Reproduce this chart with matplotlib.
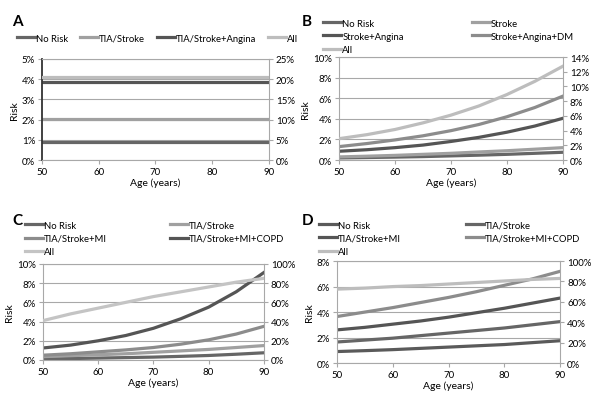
import numpy as np
import matplotlib
matplotlib.use('Agg')
import matplotlib.pyplot as plt
from matplotlib.ticker import FuncFormatter

plt.rcParams['font.family'] = ['Lato', 'DejaVu Sans']

# 나이 (years)
ages = [50, 55, 60, 65, 70, 75, 80, 85, 90]

# Panel A - constant risk
a_labels = ['No Risk', 'TIA/Stroke', 'TIA/Stroke+Angina', 'All']
a_no_risk = [0.9] * 9
a_tia = [2.05] * 9
a_tia_angina = [3.85] * 9
a_all_right = [20.5] * 9   # right axis

# Panel B
b_labels = ['No Risk', 'Stroke', 'Stroke+Angina', 'Stroke+Angina+DM', 'All']
b_no_risk = [0.2, 0.24, 0.28, 0.33, 0.4, 0.47, 0.55, 0.65, 0.75]
b_stroke = [0.3, 0.37, 0.45, 0.55, 0.65, 0.78, 0.9, 1.05, 1.2]
b_angina = [0.85, 1.0, 1.2, 1.45, 1.8, 2.2, 2.7, 3.3, 4.05]
b_dm = [1.3, 1.6, 1.95, 2.35, 2.85, 3.45, 4.2, 5.1, 6.2]
b_all_right = [2.9, 3.45, 4.15, 5.05, 6.1, 7.35, 8.9, 10.7, 12.75]

# Panel C
c_labels = ['No Risk', 'TIA/Stroke', 'TIA/Stroke+MI', 'TIA/Stroke+MI+COPD', 'All']
c_no_risk = [0.12, 0.15, 0.2, 0.25, 0.3, 0.38, 0.47, 0.6, 0.75]
c_tia = [0.35, 0.45, 0.55, 0.65, 0.8, 0.95, 1.1, 1.3, 1.5]
c_mi = [0.5, 0.65, 0.85, 1.05, 1.3, 1.65, 2.1, 2.7, 3.5]
c_copd = [1.25, 1.55, 2.0, 2.55, 3.3, 4.3, 5.5, 7.1, 9.1]
c_all_right = [41, 48, 54, 60, 66, 71, 76, 81, 85]

# Panel D
d_labels = ['No Risk', 'TIA/Stroke', 'TIA/Stroke+MI', 'TIA/Stroke+MI+COPD', 'All']
d_no_risk = [0.9, 0.97, 1.05, 1.15, 1.25, 1.35, 1.45, 1.6, 1.75]
d_tia = [1.65, 1.8, 1.95, 2.15, 2.35, 2.55, 2.75, 3.0, 3.25]
d_mi = [2.6, 2.8, 3.05, 3.3, 3.6, 3.95, 4.3, 4.7, 5.1]
d_copd = [3.65, 4.0, 4.35, 4.75, 5.15, 5.6, 6.1, 6.6, 7.2]
d_all_right = [72.5, 73.5, 75, 76, 77.5, 79, 80.5, 82, 83]

pct = FuncFormatter(lambda v, p: '%d%%' % round(v))
grid_c = '#a8a8a8'
lw = 2.3
fs_tick = 7
fs_leg = 6.8


def setup(ax, ylim, yticks, rlim, rticks, left_dark=False):
    ax.set_xlim(50, 90)
    ax.set_ylim(*ylim)
    ax.set_yticks(yticks)
    ax.set_xticks([50, 60, 70, 80, 90])
    ax.yaxis.set_major_formatter(pct)
    ax.yaxis.grid(True, color=grid_c, lw=0.8)
    ax.set_axisbelow(True)
    for s in ['top', 'right', 'bottom']:
        ax.spines[s].set_color(grid_c)
        ax.spines[s].set_linewidth(0.8)
    ax.spines['left'].set_color('#333333' if left_dark else grid_c)
    ax.spines['left'].set_linewidth(1.3 if left_dark else 0.8)
    ax.tick_params(axis='both', labelsize=fs_tick, length=3, width=0.8,
                   color=grid_c, pad=2)
    ax.set_xlabel('Age (years)', fontsize=7.5, labelpad=1)
    ax.set_ylabel('Risk', fontsize=7.5, labelpad=2)
    ax2 = ax.twinx()
    ax2.set_ylim(*rlim)
    ax2.set_yticks(rticks)
    ax2.yaxis.set_major_formatter(pct)
    for s in ax2.spines.values():
        s.set_visible(False)
    ax2.tick_params(axis='y', labelsize=fs_tick, length=3, width=0.8,
                    color=grid_c, pad=2)
    return ax2


def two_col_legend(ax, handles, labels, x0, y0, spacing):
    ax.legend(handles, labels, loc='lower left', bbox_to_anchor=(x0, y0), ncol=2,
              frameon=False, fontsize=fs_leg, handlelength=1.9, handletextpad=0.1,
              columnspacing=spacing, labelspacing=0.45, borderaxespad=0, borderpad=0)


fig = plt.figure(figsize=(6, 4.02), dpi=100)

# ---- A
axA = fig.add_axes([0.07, 0.5995, 0.378, 0.2515])
axA2 = setup(axA, (0, 5), [0, 1, 2, 3, 4, 5], (0, 25), [0, 5, 10, 15, 20, 25], left_dark=True)
hA = []
hA += axA.plot(ages, a_no_risk, color='#666666', lw=lw)
hA += axA.plot(ages, a_tia, color='#a0a0a0', lw=lw)
hA += axA.plot(ages, a_tia_angina, color='#555555', lw=lw)
hA += axA2.plot(ages, a_all_right, color='#bdbdbd', lw=lw)
axA.legend(hA, a_labels, loc='lower left', bbox_to_anchor=(-0.11, 1.16), ncol=4,
           frameon=False, fontsize=fs_leg, handlelength=1.9, handletextpad=0.1,
           columnspacing=1.25, borderaxespad=0, borderpad=0)
fig.text(0.02, 0.935, 'A', fontsize=11, fontweight='bold')

# ---- B
axB = fig.add_axes([0.565, 0.5995, 0.373, 0.256])
axB2 = setup(axB, (0, 10), [0, 2, 4, 6, 8, 10], (0, 14), [0, 2, 4, 6, 8, 10, 12, 14])
b1, = axB.plot(ages, b_no_risk, color='#666666', lw=lw)
b2, = axB.plot(ages, b_stroke, color='#a0a0a0', lw=lw)
b3, = axB.plot(ages, b_angina, color='#555555', lw=lw)
b4, = axB.plot(ages, b_dm, color='#8c8c8c', lw=lw)
b5, = axB2.plot(ages, b_all_right, color='#bdbdbd', lw=lw)
two_col_legend(axB, [b1, b3, b5, b2, b4],
               [b_labels[0], b_labels[2], b_labels[4], b_labels[1], b_labels[3]], -0.07, 1.03, 7.2)
fig.text(0.503, 0.935, 'B', fontsize=11, fontweight='bold')

# ---- C
axC = fig.add_axes([0.0717, 0.102, 0.368, 0.239])
axC2 = setup(axC, (0, 10), [0, 2, 4, 6, 8, 10], (0, 100), [0, 20, 40, 60, 80, 100])
c1, = axC.plot(ages, c_no_risk, color='#666666', lw=lw)
c2, = axC.plot(ages, c_tia, color='#a0a0a0', lw=lw)
c3, = axC.plot(ages, c_mi, color='#8c8c8c', lw=lw)
c4, = axC.plot(ages, c_copd, color='#555555', lw=lw)
c5, = axC2.plot(ages, c_all_right, color='#c4c4c4', lw=lw)
two_col_legend(axC, [c1, c3, c5, c2, c4],
               [c_labels[0], c_labels[2], c_labels[4], c_labels[1], c_labels[3]], -0.08, 1.08, 6.6)
fig.text(0.02, 0.44, 'C', fontsize=11, fontweight='bold')

# ---- D
axD = fig.add_axes([0.5617, 0.0945, 0.372, 0.2535])
axD2 = setup(axD, (0, 8), [0, 2, 4, 6, 8], (0, 100), [0, 20, 40, 60, 80, 100])
d1, = axD.plot(ages, d_no_risk, color='#5a5a5a', lw=lw)
d2, = axD.plot(ages, d_tia, color='#666666', lw=lw)
d3, = axD.plot(ages, d_mi, color='#555555', lw=lw)
d4, = axD.plot(ages, d_copd, color='#8c8c8c', lw=lw)
d5, = axD2.plot(ages, d_all_right, color='#bdbdbd', lw=lw)
two_col_legend(axD, [d1, d3, d5, d2, d4],
               [d_labels[0], d_labels[2], d_labels[4], d_labels[1], d_labels[3]], -0.08, 1.05, 6.9)
fig.text(0.503, 0.44, 'D', fontsize=11, fontweight='bold')

fig.savefig('out.png', dpi=100)
